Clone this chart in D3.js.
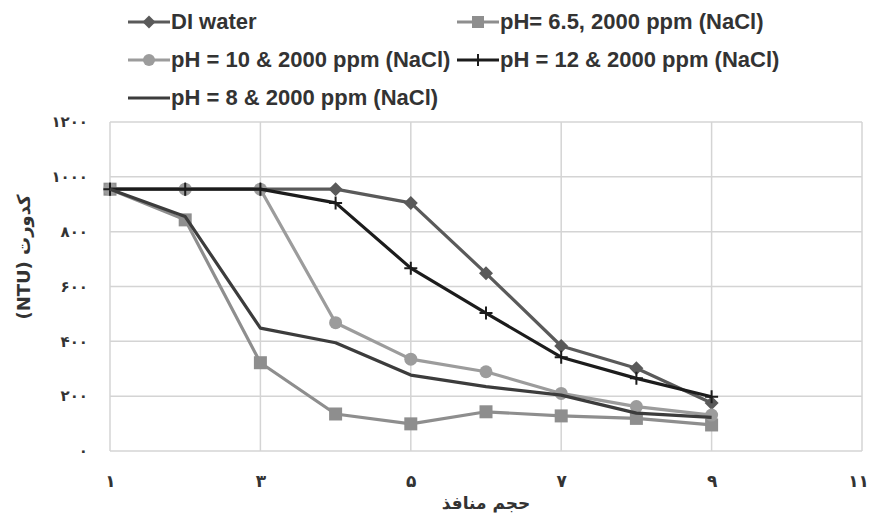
<!DOCTYPE html>
<html>
<head>
<meta charset="utf-8">
<script src="https://d3js.org/d3.v7.min.js"></script>
<style>
  body { margin: 0; background: #fff; }
  .legend text { font-family: "Liberation Sans", Arial, sans-serif; font-weight: bold; font-size: 22px; fill: #333; }
  .fa { font-family: "DejaVu Sans", sans-serif; fill: #333; }
</style>
</head>
<body>
<div id="chart"></div>
<script>
var xs = [1, 2, 3, 4, 5, 6, 7, 8, 9];
var diWater = [955, 955, 955, 955, 905, 648, 383, 302, 175];
var ph65 = [955, 843, 322, 135, 99, 143, 128, 119, 95];
var ph10 = [955, 955, 955, 468, 335, 289, 210, 162, 131];
var ph12 = [955, 955, 955, 905, 667, 503, 342, 265, 198];
var ph8 = [955, 855, 448, 395, 277, 235, 204, 138, 123];
var xTicks = [1, 3, 5, 7, 9, 11];
var yTicks = [0, 200, 400, 600, 800, 1000, 1200];

var series = [
  {name: "DI water", values: diWater, color: "#5a5a5a", marker: "diamond"},
  {name: "pH= 6.5, 2000 ppm (NaCl)", values: ph65, color: "#8e8e8e", marker: "square"},
  {name: "pH = 10 & 2000 ppm (NaCl)", values: ph10, color: "#9c9c9c", marker: "circle"},
  {name: "pH = 12 & 2000 ppm (NaCl)", values: ph12, color: "#1c1c1c", marker: "cross"},
  {name: "pH = 8 & 2000 ppm (NaCl)", values: ph8, color: "#3c3c3c", marker: "none"}
];

var W = 870, H = 514;
var margin = {left: 110, right: 8, top: 122, bottom: 63};

var svg = d3.select("#chart").append("svg").attr("width", W).attr("height", H);

var x = d3.scaleLinear().domain([1, 11]).range([margin.left, W - margin.right]);
var y = d3.scaleLinear().domain([0, 1200]).range([H - margin.bottom, margin.top]);

function fa(n) {
  return String(n).replace(/[0-9]/g, function(c) { return "۰۱۲۳۴۵۶۷۸۹"[+c]; });
}

// gridlines
svg.append("g").selectAll("line.h").data(yTicks).enter().append("line")
  .attr("x1", x(1)).attr("x2", x(11))
  .attr("y1", function(d) { return y(d); }).attr("y2", function(d) { return y(d); })
  .attr("stroke", "#d4d4d4").attr("stroke-width", 1.5);
svg.append("g").selectAll("line.v").data(xTicks).enter().append("line")
  .attr("x1", function(d) { return x(d); }).attr("x2", function(d) { return x(d); })
  .attr("y1", y(0)).attr("y2", y(1200))
  .attr("stroke", "#d4d4d4").attr("stroke-width", 1.5);

// axes labels
var yAxis = d3.axisLeft(y).tickValues(yTicks).tickFormat(fa).tickSize(0).tickPadding(22);
var gy = svg.append("g").attr("transform", "translate(" + x(1) + ",0)").call(yAxis);
gy.select(".domain").remove();
gy.selectAll("text").attr("class", "fa").style("font-size", "15px").style("font-weight", "bold");

var xAxis = d3.axisBottom(x).tickValues(xTicks).tickFormat(fa).tickSize(0).tickPadding(24);
var gx = svg.append("g").attr("transform", "translate(0," + y(0) + ")").call(xAxis);
gx.select(".domain").remove();
gx.selectAll("text").attr("class", "fa").style("font-size", "17px").style("font-weight", "bold");
gx.selectAll(".tick").filter(function(d) { return d === 11; }).select("text").attr("dx", -4);

svg.append("text").attr("class", "fa")
  .attr("x", 486).attr("y", 509).attr("text-anchor", "middle")
  .style("font-size", "17px").style("font-weight", "bold")
  .text("حجم منافذ");

svg.append("text").attr("class", "fa")
  .attr("transform", "translate(30,257) rotate(-90)")
  .attr("text-anchor", "middle")
  .style("font-size", "18px").style("font-weight", "bold")
  .text("(NTU) کدورت");

// markers
function drawMarker(g, type, color, cx, cy, s) {
  if (type === "diamond") {
    g.append("path").attr("d", "M" + cx + "," + (cy - s) + "L" + (cx + s) + "," + cy + "L" + cx + "," + (cy + s) + "L" + (cx - s) + "," + cy + "Z")
      .attr("fill", color);
  } else if (type === "square") {
    g.append("rect").attr("x", cx - s).attr("y", cy - s).attr("width", 2 * s).attr("height", 2 * s).attr("fill", color);
  } else if (type === "circle") {
    g.append("circle").attr("cx", cx).attr("cy", cy).attr("r", s).attr("fill", color);
  } else if (type === "cross") {
    g.append("path").attr("d", "M" + (cx - s) + "," + cy + "H" + (cx + s) + "M" + cx + "," + (cy - s) + "V" + (cy + s))
      .attr("stroke", color).attr("stroke-width", 2);
  }
}

var line = d3.line().x(function(d, i) { return x(xs[i]); }).y(function(d) { return y(d); });
var sizes = {diamond: 7, square: 6.5, circle: 6.5, cross: 6.5};

series.forEach(function(s) {
  var g = svg.append("g");
  g.append("path").datum(s.values).attr("d", line)
    .attr("fill", "none").attr("stroke", s.color).attr("stroke-width", 3.2).attr("stroke-linejoin", "round");
  s.values.forEach(function(v, i) {
    drawMarker(g, s.marker, s.color, x(xs[i]), y(v), sizes[s.marker]);
  });
});

// legend
var legendPos = [[128, 22], [457, 22], [128, 60], [457, 60], [128, 98]];
var lg = svg.append("g").attr("class", "legend");
series.forEach(function(s, i) {
  var p = legendPos[i];
  var g = lg.append("g");
  g.append("line").attr("x1", p[0]).attr("x2", p[0] + 42).attr("y1", p[1]).attr("y2", p[1])
    .attr("stroke", s.color).attr("stroke-width", 3.2);
  drawMarker(g, s.marker, s.color, p[0] + 21, p[1], sizes[s.marker] - 0.5);
  g.append("text").attr("x", p[0] + 43).attr("y", p[1] + 7).text(s.name);
});
</script>
</body>
</html>
